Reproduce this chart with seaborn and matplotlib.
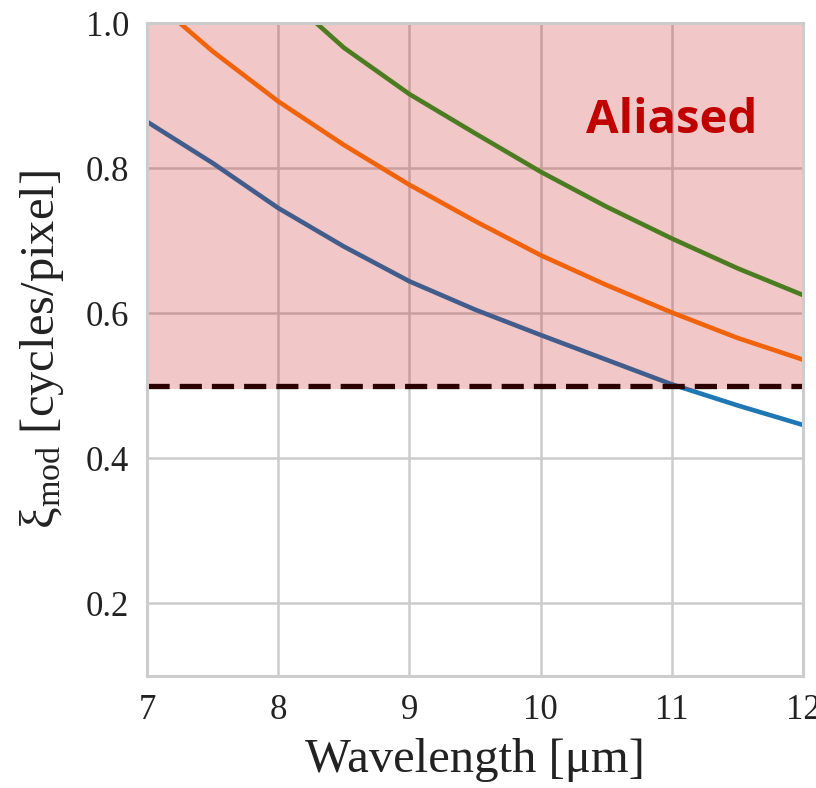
import matplotlib
matplotlib.use("Agg")
import matplotlib.pyplot as plt
import seaborn as sns
import pandas as pd

# ---- data ----
blue_x = [7.0, 7.5, 8.0, 8.5, 9.0, 9.5, 10.0, 10.5, 11.0, 11.5, 12.0]
blue_y = [0.864, 0.807, 0.745, 0.692, 0.644, 0.605, 0.570, 0.536, 0.502, 0.473, 0.446]

orange_x = [7.25, 7.5, 8.0, 8.5, 9.0, 9.5, 10.0, 10.5, 11.0, 11.5, 12.0]
orange_y = [1.000, 0.961, 0.892, 0.832, 0.777, 0.727, 0.680, 0.639, 0.601, 0.566, 0.536]

green_x = [8.29, 8.5, 9.0, 9.5, 10.0, 10.5, 11.0, 11.5, 12.0]
green_y = [1.000, 0.966, 0.902, 0.848, 0.795, 0.747, 0.703, 0.662, 0.625]

series_names = ["s1", "s2", "s3"]
series_colors = ["#1f77b4", "#ff7f0e", "#2ca02c"]

x_ticks = [7, 8, 9, 10, 11, 12]
y_ticks = [0.2, 0.4, 0.6, 0.8, 1.0]
threshold = 0.5
alias_bottom = 0.495
x_label = "Wavelength [μm]"
y_label = r"ξ$_{\rm mod}$ [cycles/pixel]"
alias_text = "Aliased"

# ---- build long-form table ----
df = pd.concat([
    pd.DataFrame({"x": blue_x, "y": blue_y, "s": series_names[0]}),
    pd.DataFrame({"x": orange_x, "y": orange_y, "s": series_names[1]}),
    pd.DataFrame({"x": green_x, "y": green_y, "s": series_names[2]}),
], ignore_index=True)

sns.set_theme(style="whitegrid")
plt.rcParams["font.family"] = ["Liberation Serif", "DejaVu Serif"]
plt.rcParams["mathtext.fontset"] = "custom"
plt.rcParams["mathtext.rm"] = "Liberation Serif"
plt.rcParams["mathtext.it"] = "Liberation Serif:italic"

fig = plt.figure(figsize=(8.16, 7.88), dpi=100)
ax = fig.add_axes([147 / 816, 1 - 676 / 788, 656 / 816, (676 - 23) / 788])

sns.lineplot(data=df, x="x", y="y", hue="s", palette=series_colors,
             linewidth=3.3, legend=False, ax=ax, zorder=2, sort=False)

ax.axhline(threshold, color="black", ls=(0, (4.2, 1.9)), lw=3.8, zorder=2.5)
ax.axhspan(alias_bottom, 1.0, color="#c00000", alpha=0.22, lw=0, zorder=3)
ax.text(11.0, 0.849, alias_text, color="#c00000", fontsize=34,
        family=["Open Sans", "DejaVu Sans"], fontweight="bold",
        ha="center", va="baseline", zorder=4)

ax.set_xlim(7, 12)
ax.set_ylim(0.1, 1.0)
ax.set_xticks(x_ticks)
ax.set_yticks(y_ticks)
ax.set_xticklabels([str(t) for t in x_ticks])
ax.set_yticklabels([f"{t:.1f}" for t in y_ticks])
ax.tick_params(axis="both", labelsize=25, pad=13, length=0, colors="#222222")
ax.set_axisbelow(True)
ax.grid(True, color="#cccccc", linewidth=1.8)
for sp in ax.spines.values():
    sp.set_color("#cccccc")
    sp.set_linewidth(2.2)
    sp.set_zorder(5)

ax.set_xlabel(x_label, fontsize=35, color="#222222", labelpad=8)
ax.set_ylabel(y_label, fontsize=35, color="#222222", labelpad=14)

fig.savefig("out.png", dpi=100)
